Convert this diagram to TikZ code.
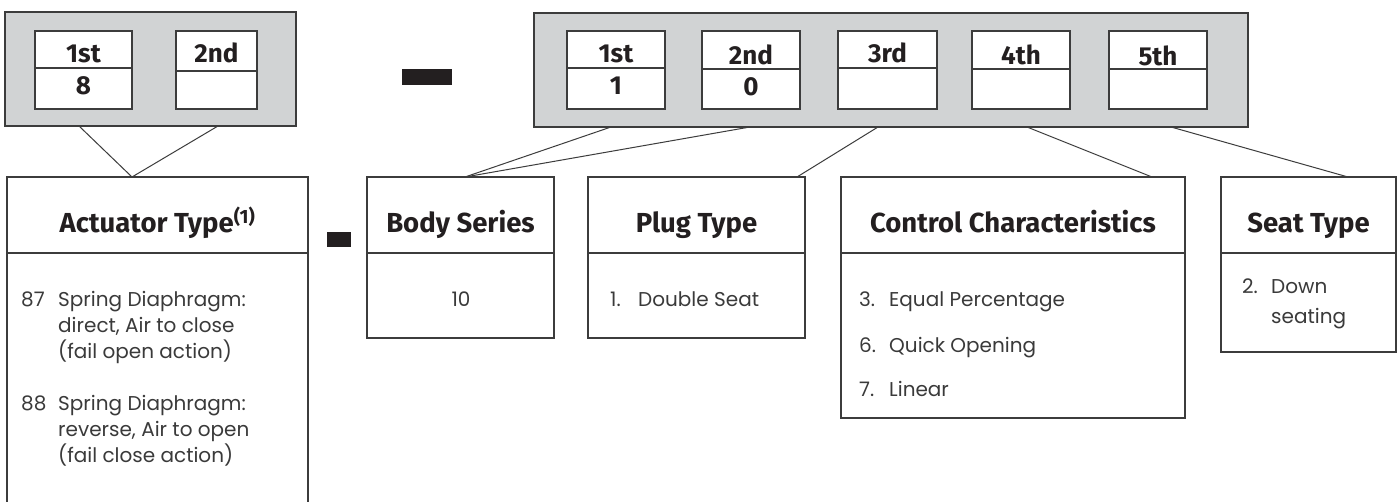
\documentclass[tikz,border=0pt]{standalone}
\usepackage{fontspec}
\setmainfont{Fira Sans}
\newfontfamily\bodyfont{Poppins}
\definecolor{boxline}{HTML}{3C3C3C}
\definecolor{greyfill}{HTML}{D1D3D4}
\definecolor{ink}{HTML}{231F20}
\definecolor{bodyink}{HTML}{3A3A3A}
\tikzset{
  boxbase/.style={draw=boxline, line width=1.2pt, inner sep=0pt, outer sep=0pt, anchor=north west},
  greybox/.style={boxbase, fill=greyfill},
  cellbox/.style={boxbase, fill=white},
  infobox/.style={boxbase, fill=white},
  dashbar/.style={fill=ink, draw=none, inner sep=0pt, outer sep=0pt, anchor=north west},
  conn/.style={draw=boxline, line width=1pt},
  celltxt/.style={font=\fontsize{26}{30}\selectfont\bfseries, text=ink, anchor=base, inner sep=0pt},
  headtxt/.style={font=\fontsize{27.5}{30}\selectfont\bfseries, text=ink, anchor=base, inner sep=0pt},
  bodytxt/.style={font=\bodyfont\fontsize{20}{26}\selectfont, text=bodyink, anchor=base west, inner sep=0pt},
  bodyctr/.style={font=\bodyfont\fontsize{20}{26}\selectfont, text=bodyink, anchor=base, inner sep=0pt},
}
\begin{document}
\begin{tikzpicture}[x=1pt, y=-1pt]
\clip (0,0) rectangle (1398,502);
\fill[white] (0,0) rectangle (1398,502);

% ---- left code group
\node[greybox, minimum width=291pt, minimum height=114pt] (gl) at (5,12) {};
\node[cellbox, minimum width=97pt, minimum height=37pt] (l1h) at (35,31) {};
\node[cellbox, minimum width=97pt, minimum height=41pt] (l1v) at (35,68) {};
\node[cellbox, minimum width=81pt, minimum height=40pt] (l2h) at (176,31) {};
\node[cellbox, minimum width=81pt, minimum height=38pt] (l2v) at (176,71) {};
\node[celltxt] (l1ht) at ([yshift=-32pt]l1h.north) {1st};
\node[celltxt] (l1vt) at ([yshift=-27pt]l1v.north) {8};
\node[celltxt] (l2ht) at ([yshift=-32pt]l2h.north) {2nd};

% ---- big dash
\node[dashbar, minimum width=50pt, minimum height=16pt] (bigdash) at (402,69) {};

% ---- right code group
\node[greybox, minimum width=714pt, minimum height=114pt] (gr) at (534,13) {};
\node[cellbox, minimum width=98pt, minimum height=37pt] (r1h) at (567,31) {};
\node[cellbox, minimum width=98pt, minimum height=41pt] (r1v) at (567,68) {};
\node[cellbox, minimum width=98pt, minimum height=38pt] (r2h) at (702,31) {};
\node[cellbox, minimum width=98pt, minimum height=40pt] (r2v) at (702,69) {};
\node[cellbox, minimum width=99pt, minimum height=37pt] (r3h) at (838,31) {};
\node[cellbox, minimum width=99pt, minimum height=41pt] (r3v) at (838,68) {};
\node[cellbox, minimum width=98pt, minimum height=38pt] (r4h) at (972,31) {};
\node[cellbox, minimum width=98pt, minimum height=40pt] (r4v) at (972,69) {};
\node[cellbox, minimum width=98pt, minimum height=38pt] (r5h) at (1109,31) {};
\node[cellbox, minimum width=98pt, minimum height=40pt] (r5v) at (1109,69) {};
\node[celltxt] (r1ht) at ([yshift=-32pt]r1h.north) {1st};
\node[celltxt] (r1vt) at ([yshift=-27pt]r1v.north) {1};
\node[celltxt] (r2ht) at ([yshift=-34pt]r2h.north) {2nd};
\node[celltxt] (r2vt) at ([yshift=-27pt]r2v.north) {0};
\node[celltxt] (r3ht) at ([yshift=-32pt]r3h.north) {3rd};
\node[celltxt] (r4ht) at ([yshift=-34pt]r4h.north) {4th};
\node[celltxt] (r5ht) at ([yshift=-35pt]r5h.north) {5th};

% ---- info boxes
\node[infobox, minimum width=301pt, minimum height=76pt] (acth) at (7,177) {};
\node[infobox, minimum width=301pt, minimum height=280pt] (actv) at (7,253) {};
\node[dashbar, minimum width=24pt, minimum height=15pt] (smalldash) at (327,232) {};
\node[infobox, minimum width=187pt, minimum height=76pt] (bodh) at (367,177) {};
\node[infobox, minimum width=187pt, minimum height=85pt] (bodv) at (367,253) {};
\node[infobox, minimum width=217pt, minimum height=76pt] (plgh) at (588,177) {};
\node[infobox, minimum width=217pt, minimum height=85pt] (plgv) at (588,253) {};
\node[infobox, minimum width=344pt, minimum height=76pt] (cch) at (841,177) {};
\node[infobox, minimum width=344pt, minimum height=165pt] (ccv) at (841,253) {};
\node[infobox, minimum width=175pt, minimum height=76pt] (seth) at (1221,177) {};
\node[infobox, minimum width=175pt, minimum height=99pt] (setv) at (1221,253) {};

% headings
\node[headtxt] (actt) at ([yshift=-56pt]acth.north) {Actuator Type\textsuperscript{(1)}};
\node[headtxt] (bodt) at ([yshift=-56pt]bodh.north) {Body Series};
\node[headtxt] (plgt) at ([yshift=-56pt]plgh.north) {Plug Type};
\node[headtxt] (cct) at ([yshift=-56pt]cch.north) {Control Characteristics};
\node[headtxt] (sett) at ([yshift=-56pt]seth.north) {Seat Type};

% body texts
\node[bodytxt] (a87) at (21,307) {87};
\node[bodytxt] (a87a) at (58,307) {Spring Diaphragm:};
\node[bodytxt] (a87b) at (58,333) {direct, Air to close};
\node[bodytxt] (a87c) at (58,359) {(fail open action)};
\node[bodytxt] (a88) at (21,411) {88};
\node[bodytxt] (a88a) at (58,411) {Spring Diaphragm:};
\node[bodytxt] (a88b) at (58,437) {reverse, Air to open};
\node[bodytxt] (a88c) at (58,463) {(fail close action)};

\node[bodyctr] (b10) at (461,307) {10};

\node[bodytxt] (p1n) at (610,307) {1.};
\node[bodytxt] (p1t) at (638,307) {Double Seat};

\node[bodytxt] (c3n) at (859,307) {3.};
\node[bodytxt] (c3t) at (889,307) {Equal Percentage};
\node[bodytxt] (c6n) at (859,353) {6.};
\node[bodytxt] (c6t) at (889,353) {Quick Opening};
\node[bodytxt] (c7n) at (859,397) {7.};
\node[bodytxt] (c7t) at (889,397) {Linear};

\node[bodytxt] (s2n) at (1242,294) {2.};
\node[bodytxt] (s2t) at (1271,294) {Down};
\node[bodytxt] (s2u) at (1271,324) {seating};

% ---- connectors
\draw[conn] ([xshift=74pt]gl.south west) -- ([xshift=125pt]acth.north west);
\draw[conn] ([xshift=213pt]gl.south west) -- ([xshift=125pt]acth.north west);
\draw[conn] ([xshift=77pt]gr.south west) -- ([xshift=98pt]bodh.north west);
\draw[conn] ([xshift=216pt]gr.south west) -- ([xshift=98pt]bodh.north west);
\draw[conn] ([xshift=344pt]gr.south west) -- ([xshift=209pt]plgh.north west);
\draw[conn] ([xshift=493pt]gr.south west) -- ([xshift=311pt]cch.north west);
\draw[conn] ([xshift=637pt]gr.south west) -- ([xshift=127pt]seth.north west);
\end{tikzpicture}
\end{document}
